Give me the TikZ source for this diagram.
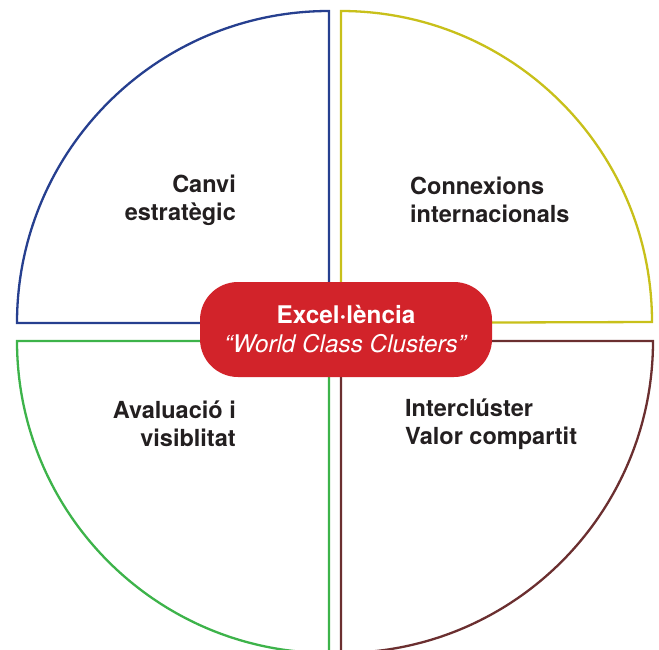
\documentclass[tikz,border=0pt]{standalone}
\usepackage{fontspec}
\setmainfont{TeX Gyre Heros}
\definecolor{qblue}{HTML}{263F8F}
\definecolor{qyellow}{HTML}{C8C01A}
\definecolor{qgreen}{HTML}{3DB34A}
\definecolor{qbrown}{HTML}{6B2F30}
\definecolor{boxred}{HTML}{D2232A}
\definecolor{txt}{HTML}{231F20}
\tikzset{
  quad/.style={line width=2.3pt, line join=miter, fill=white},
  lbl/.style={font=\fontsize{23.5}{28}\selectfont\bfseries, text=txt, inner sep=0pt},
  centerbox/.style={fill=boxred, rounded corners=38pt, minimum width=292pt, minimum height=95pt, inner sep=0pt, align=center, text=white, font=\fontsize{24.3}{29}\selectfont}
}
\begin{document}
\begin{tikzpicture}[x=1pt,y=-1pt]
\useasboundingbox (0,0) rectangle (659,649);
\clip (0,0) rectangle (659,649);
\draw[quad, draw=qblue] (329,323) -- (17,323) arc[start angle=180, end angle=270, radius=312] -- cycle;
\draw[quad, draw=qyellow] (341,323) -- (341,11) arc[start angle=270, end angle=360, radius=311] -- cycle;
\draw[quad, draw=qgreen] (329,341) -- (17,341) arc[start angle=180, end angle=90, radius=312] -- cycle;
\draw[quad, draw=qbrown] (341,341) -- (653,341) arc[start angle=0, end angle=90, radius=312] -- cycle;
\node[centerbox] (center) at (346,329.5) {\textbf{Excel·lència}\\\textit{“World Class Clusters”}};
\node[lbl, anchor=east, align=right] (tl) at (236,200) {Canvi\\estratègic};
\node[lbl, anchor=west, align=left] (tr) at (410,200) {Connexions\\internacionals};
\node[lbl, anchor=east, align=right] (bl) at (236,424) {Avaluació i\\visiblitat};
\node[lbl, anchor=west, align=left] (br) at (405,424) {Interclúster\\Valor compartit};
\end{tikzpicture}
\end{document}
